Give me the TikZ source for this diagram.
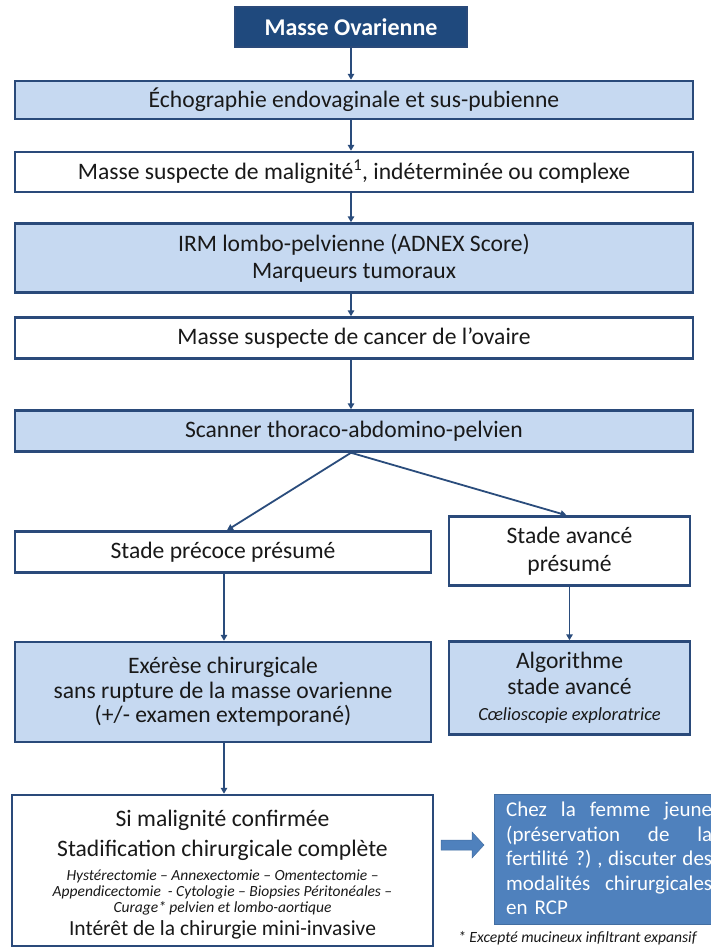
\documentclass[tikz,border=0pt]{standalone}
\usepackage{fontspec}
\setmainfont{Carlito}
\usetikzlibrary{arrows.meta}
\definecolor{navy}{RGB}{31,73,125}
\definecolor{bordc}{RGB}{42,74,122}
\definecolor{lightb}{RGB}{198,217,241}
\definecolor{midb}{RGB}{79,129,189}
\definecolor{arrc}{RGB}{42,76,124}
\definecolor{txt}{RGB}{25,25,25}
\newcommand{\jline}[1]{\leavevmode\hbox to 206pt{#1}}
\begin{document}
\begin{tikzpicture}[x=1pt,y=-1pt,
  box/.style={draw=bordc, line width=2.5pt, rectangle, inner sep=0pt, align=center,
    font=\fontsize{23.6}{27}\selectfont, text=txt},
  wbox/.style={box, fill=white},
  lbox/.style={box, fill=lightb},
  arr/.style={draw=arrc, line width=1.8pt, -{Triangle[length=6pt,width=6.5pt]}},
  linetxt/.style={anchor=base, inner sep=0pt, text=txt},
]
\useasboundingbox (0,0) rectangle (710,948);
\fill[white] (0,0) rectangle (710,948);

% top chain
\node[box, fill=navy, text=white, minimum width=232pt, minimum height=40pt,
  font=\fontsize{24}{28}\selectfont\bfseries] (b1) at (351,27) {Masse Ovarienne};
\node[lbox, minimum width=678pt, minimum height=38pt] (b2) at (354,100)
  {Échographie endovaginale et sus-pubienne};
\node[wbox, minimum width=678pt, minimum height=40pt] (b3) at (354,172)
  {Masse suspecte de malignité\textsuperscript{1}, indéterminée ou complexe};
\node[lbox, minimum width=678pt, minimum height=69pt] (b4) at (354,258)
  {IRM lombo-pelvienne (ADNEX Score)\\Marqueurs tumoraux};
\node[wbox, minimum width=678pt, minimum height=41pt] (b5) at (354,338)
  {Masse suspecte de cancer de l’ovaire};
\node[lbox, minimum width=678pt, minimum height=41pt] (b6) at (354,431)
  {Scanner thoraco-abdomino-pelvien};

% branches
\node[wbox, minimum width=416pt, minimum height=41pt] (b7) at (223,552)
  {Stade précoce présumé};
\node[wbox, minimum width=241pt, minimum height=69pt, font=\fontsize{23.6}{28}\selectfont] (b8) at (569.5,551)
  {Stade avancé\\présumé};
\node[lbox, minimum width=416pt, minimum height=100pt, font=\fontsize{23.6}{24.5}\selectfont] (b9) at (223,692)
  {Exérèse chirurgicale\\sans rupture de la masse ovarienne\\(+/- examen extemporané)};
\node[lbox, minimum width=241pt, minimum height=93pt, font=\fontsize{23.6}{26}\selectfont] (b10) at (569.5,688)
  {Algorithme\\stade avancé\\{\fontsize{18.5}{20}\selectfont\itshape Cœlioscopie exploratrice}};

% final box
\node[wbox, minimum width=421pt, minimum height=151pt] (b11) at (222.5,870.5) {};
\node[linetxt, font=\fontsize{23.6}{27}\selectfont] (t1) at (222.5,826) {Si malignité confirmée};
\node[linetxt, font=\fontsize{23.6}{27}\selectfont] (t2) at (222.5,856) {Stadification chirurgicale complète};
\node[linetxt, font=\fontsize{15.5}{17}\selectfont\itshape] (t3) at (222.5,880) {Hystérectomie – Annexectomie – Omentectomie –};
\node[linetxt, font=\fontsize{15.5}{17}\selectfont\itshape] (t4) at (222.5,896) {Appendicectomie\ \ - Cytologie – Biopsies Péritonéales –};
\node[linetxt, font=\fontsize{15.5}{17}\selectfont\itshape] (t5) at (222.5,912) {Curage* pelvien et lombo-aortique};
\node[linetxt, font=\fontsize{21.5}{25}\selectfont] (t6) at (222.5,935) {Intérêt de la chirurgie mini-invasive};

% right blue box
\node[fill=midb, draw=midb!85!black, line width=0.6pt, minimum width=222pt, minimum height=130pt,
  inner sep=0pt, anchor=north west] (rb) at (494,794) {};
\node[inner sep=0pt, anchor=north west, text=white, font=\fontsize{21}{24.5}\selectfont,
  text width=206pt, align=left] (rbt) at (506,802)
  {\jline{Chez\hfill la\hfill femme\hfill jeune}\\
   \jline{(préservation\hfill de\hfill la}\\
   \jline{fertilité ?)\hfill ,\hfill discuter\hfill des}\\
   \jline{modalités\hfill chirurgicales}\\
   en RCP};
\node[anchor=base west, inner sep=0pt, text=txt, font=\fontsize{15.6}{18}\selectfont\itshape] (fn) at (458,942)
  {* Excepté mucineux infiltrant expansif};

% connectors
\draw[arr] (b1.south) -- (b1.south |- b2.north);
\draw[arr] (b1.south |- b2.south) -- (b1.south |- b3.north);
\draw[arr] (b1.south |- b3.south) -- (b1.south |- b4.north);
\draw[arr] (b1.south |- b4.south) -- (b1.south |- b5.north);
\draw[arr] (b1.south |- b5.south) -- (b1.south |- b6.north);
\draw[arr] (b1.south |- b6.south) -- ([xshift=4pt]b7.north);
\draw[arr] (b1.south |- b6.south) -- ([xshift=-3pt]b8.north);
\draw[arr] ([xshift=1pt]b7.south) -- ([xshift=1pt]b9.north);
\draw[arr] (b8.south) -- (b10.north);
\draw[arr] ([xshift=1pt]b9.south) -- ([xshift=1.5pt]b11.north);

% block arrow
\fill[midb, draw=midb!85!black, line width=0.5pt]
  (441,840) -- (472,840) -- (472,832) -- (484,845) -- (472,858) -- (472,850) -- (441,850) -- cycle;
\end{tikzpicture}
\end{document}
